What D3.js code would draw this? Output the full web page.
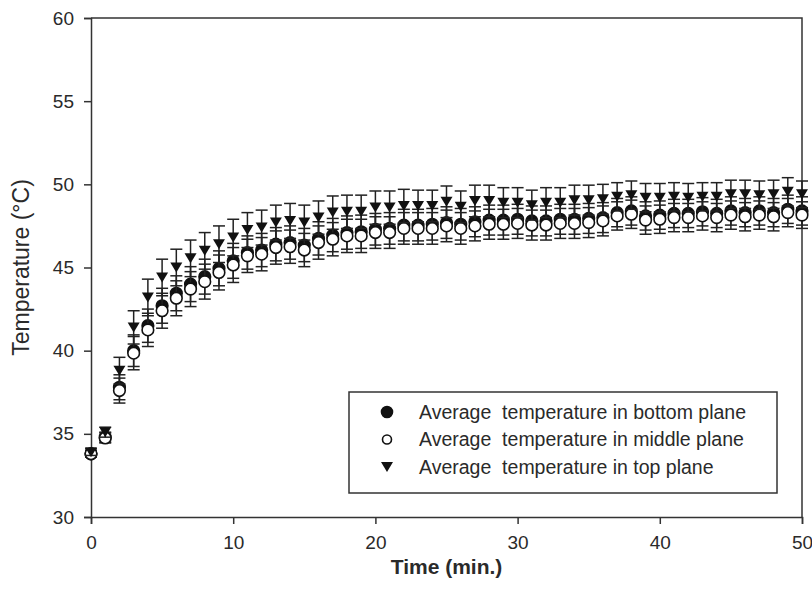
<!DOCTYPE html>
<html>
<head>
<meta charset="utf-8">
<script src="https://cdn.jsdelivr.net/npm/d3@7"></script>
<style>
  body { margin: 0; background: #fff; }
  svg text { font-family: "Liberation Sans", Arial, sans-serif; fill: #2a2a2a; }
</style>
</head>
<body>
<div id="chart"></div>
<script>
// time in minutes
var minutes = d3.range(0, 51);

var bottomPlane = [33.8, 34.8, 37.8, 40.0, 41.5, 42.7, 43.45, 44.0, 44.45, 44.95,
  45.4, 45.9, 46.05, 46.4, 46.5, 46.35, 46.75, 46.95, 47.1, 47.15,
  47.3, 47.35, 47.55, 47.55, 47.6, 47.7, 47.6, 47.75, 47.85, 47.85,
  47.9, 47.8, 47.8, 47.9, 47.9, 47.95, 48.0, 48.3, 48.4, 48.1,
  48.15, 48.25, 48.25, 48.35, 48.25, 48.4, 48.3, 48.4, 48.3, 48.5, 48.4];
var middlePlane = [33.8, 34.75, 37.6, 39.85, 41.25, 42.4, 43.15, 43.7, 44.15, 44.7,
  45.15, 45.7, 45.8, 46.2, 46.25, 46.05, 46.5, 46.7, 46.9, 46.9,
  47.1, 47.1, 47.35, 47.35, 47.35, 47.5, 47.35, 47.5, 47.6, 47.6,
  47.65, 47.55, 47.55, 47.65, 47.65, 47.7, 47.8, 48.1, 48.2, 47.85,
  47.9, 48.0, 48.0, 48.1, 48.0, 48.15, 48.05, 48.15, 48.05, 48.3, 48.15];
var topPlane = [33.9, 35.1, 38.8, 41.4, 43.2, 44.4, 45.0, 45.55, 46.0, 46.4,
  46.8, 47.25, 47.4, 47.7, 47.8, 47.7, 48.0, 48.3, 48.35, 48.35,
  48.6, 48.6, 48.7, 48.7, 48.7, 48.95, 48.65, 49.0, 49.0, 48.9,
  48.9, 48.75, 48.9, 48.9, 49.05, 49.05, 49.1, 49.25, 49.35, 49.2,
  49.2, 49.25, 49.2, 49.25, 49.25, 49.4, 49.4, 49.35, 49.4, 49.55, 49.4];

// standard deviations (error bars)
var bottomSd = [0.2, 0.3, 0.75, 0.95, 1.0, 1.05, 1.05, 1.05, 1.05, 1.05,
  1.05, 1.0, 1.0, 1.0, 1.0, 1.0, 1.0, 1.0, 1.0, 1.0,
  0.95, 0.95, 0.95, 0.95, 0.95, 0.95, 0.95, 0.9, 0.9, 0.9,
  0.9, 0.9, 0.9, 0.9, 0.9, 0.9, 0.9, 0.85, 0.85, 0.85,
  0.85, 0.85, 0.85, 0.85, 0.85, 0.85, 0.85, 0.85, 0.85, 0.85, 0.85];
var middleSd = [0.2, 0.3, 0.75, 1.0, 1.0, 1.05, 1.05, 1.05, 1.05, 1.05,
  1.05, 1.0, 1.0, 1.0, 1.0, 1.0, 1.0, 1.0, 1.0, 1.0,
  0.95, 0.95, 0.95, 0.95, 0.95, 0.95, 0.95, 0.9, 0.9, 0.9,
  0.9, 0.9, 0.9, 0.9, 0.9, 0.9, 0.9, 0.85, 0.85, 0.85,
  0.85, 0.85, 0.85, 0.85, 0.85, 0.85, 0.85, 0.85, 0.85, 0.85, 0.8];
var topSd = [0.2, 0.3, 0.8, 1.0, 1.1, 1.1, 1.1, 1.1, 1.1, 1.1,
  1.1, 1.05, 1.05, 1.05, 1.05, 1.05, 1.0, 1.0, 1.0, 1.0,
  1.0, 1.0, 1.0, 0.95, 0.95, 0.95, 0.95, 0.95, 0.95, 0.9,
  0.9, 0.9, 0.9, 0.9, 0.9, 0.9, 0.9, 0.85, 0.85, 0.85,
  0.85, 0.85, 0.85, 0.85, 0.85, 0.85, 0.85, 0.85, 0.85, 0.85, 0.8];

var xTicks = [0, 10, 20, 30, 40, 50];
var yTicks = [30, 35, 40, 45, 50, 55, 60];

var seriesNames = ["Average  temperature in bottom plane",
                   "Average  temperature in middle plane",
                   "Average  temperature in top plane"];

var width = 812, height = 606;
var margin = {top: 18, right: 10, bottom: 89, left: 91};
var axisColor = "#333";

var svg = d3.select("#chart").append("svg")
    .attr("width", width)
    .attr("height", height);

var x = d3.scaleLinear().domain([0, 50]).range([margin.left, width - margin.right]);
var y = d3.scaleLinear().domain([30, 60]).range([height - margin.bottom, margin.top]);

// frame (top & right)
svg.append("path")
    .attr("d", "M" + x(0) + "," + y(60) + "H" + x(50) + "V" + y(30))
    .attr("fill", "none")
    .attr("stroke", axisColor)
    .attr("stroke-width", 1.5);

var xAxis = svg.append("g")
    .attr("transform", "translate(0," + y(30) + ")")
    .call(d3.axisBottom(x).tickValues(xTicks).tickSize(7).tickPadding(12).tickFormat(d3.format("d")));
var yAxis = svg.append("g")
    .attr("transform", "translate(" + x(0) + ",0)")
    .call(d3.axisLeft(y).tickValues(yTicks).tickSize(7).tickPadding(10).tickFormat(d3.format("d")));

[xAxis, yAxis].forEach(function(a) {
  a.select(".domain").attr("stroke", axisColor).attr("stroke-width", 1.5);
  a.selectAll(".tick line").attr("stroke", axisColor).attr("stroke-width", 1.5);
  a.selectAll(".tick text").style("font-size", "19px").attr("fill", "#2a2a2a");
});

// axis titles
svg.append("text")
    .attr("transform", "translate(29," + ((y(30) + y(60)) / 2) + ") rotate(-90)")
    .attr("text-anchor", "middle")
    .style("font-size", "23px")
    .text("Temperature (°C)");
svg.append("text")
    .attr("x", (x(0) + x(50)) / 2)
    .attr("y", 574)
    .attr("text-anchor", "middle")
    .style("font-size", "21px")
    .style("font-weight", "bold")
    .text("Time (min.)");

var series = [
  {values: bottomPlane, sd: bottomSd, shape: "circleFilled"},
  {values: middlePlane, sd: middleSd, shape: "circleOpen"},
  {values: topPlane, sd: topSd, shape: "triangle"}
];

var triPath = "M-6,-5L6,-5L0,5Z";
var capW = 6;

function drawMarker(sel, shape, r) {
  if (shape == "triangle") {
    sel.append("path").attr("d", triPath).attr("fill", "#111");
  } else {
    sel.append("circle")
      .attr("r", r)
      .attr("fill", shape == "circleFilled" ? "#111" : "#fff")
      .attr("stroke", "#111")
      .attr("stroke-width", 1.6);
  }
}

series.forEach(function(s) {
  var pts = minutes.map(function(t, i) { return {t: t, v: s.values[i], e: s.sd[i]}; });
  var g = svg.append("g");

  var bars = g.selectAll(".err").data(pts).enter().append("g").attr("class", "err")
      .attr("stroke", "#222").attr("stroke-width", 1.5);
  bars.append("line")
      .attr("x1", function(d) { return x(d.t); })
      .attr("x2", function(d) { return x(d.t); })
      .attr("y1", function(d) { return y(d.v - d.e); })
      .attr("y2", function(d) { return y(d.v + d.e); });
  bars.append("line")
      .attr("x1", function(d) { return x(d.t) - capW; })
      .attr("x2", function(d) { return x(d.t) + capW; })
      .attr("y1", function(d) { return y(d.v + d.e); })
      .attr("y2", function(d) { return y(d.v + d.e); });
  bars.append("line")
      .attr("x1", function(d) { return x(d.t) - capW; })
      .attr("x2", function(d) { return x(d.t) + capW; })
      .attr("y1", function(d) { return y(d.v - d.e); })
      .attr("y2", function(d) { return y(d.v - d.e); });

  var marks = g.selectAll(".mark").data(pts).enter().append("g").attr("class", "mark")
      .attr("transform", function(d) { return "translate(" + x(d.t) + "," + y(d.v) + ")"; });
  drawMarker(marks, s.shape, 5.8);
});

// legend
var legend = svg.append("g");
legend.append("rect")
    .attr("x", 349).attr("y", 392)
    .attr("width", 428).attr("height", 101)
    .attr("fill", "#fff")
    .attr("stroke", axisColor)
    .attr("stroke-width", 1.5);

series.forEach(function(s, i) {
  var row = legend.append("g").attr("transform", "translate(0," + (412 + i * 27.5) + ")");
  var m = row.append("g").attr("transform", "translate(387,0)");
  drawMarker(m, s.shape, s.shape == "circleOpen" ? 4.5 : 5.5);
  row.append("text")
      .attr("x", 419)
      .attr("y", 6.5)
      .style("font-size", "19.5px")
      .style("white-space", "pre")
      .text(seriesNames[i]);
});
</script>
</body>
</html>
